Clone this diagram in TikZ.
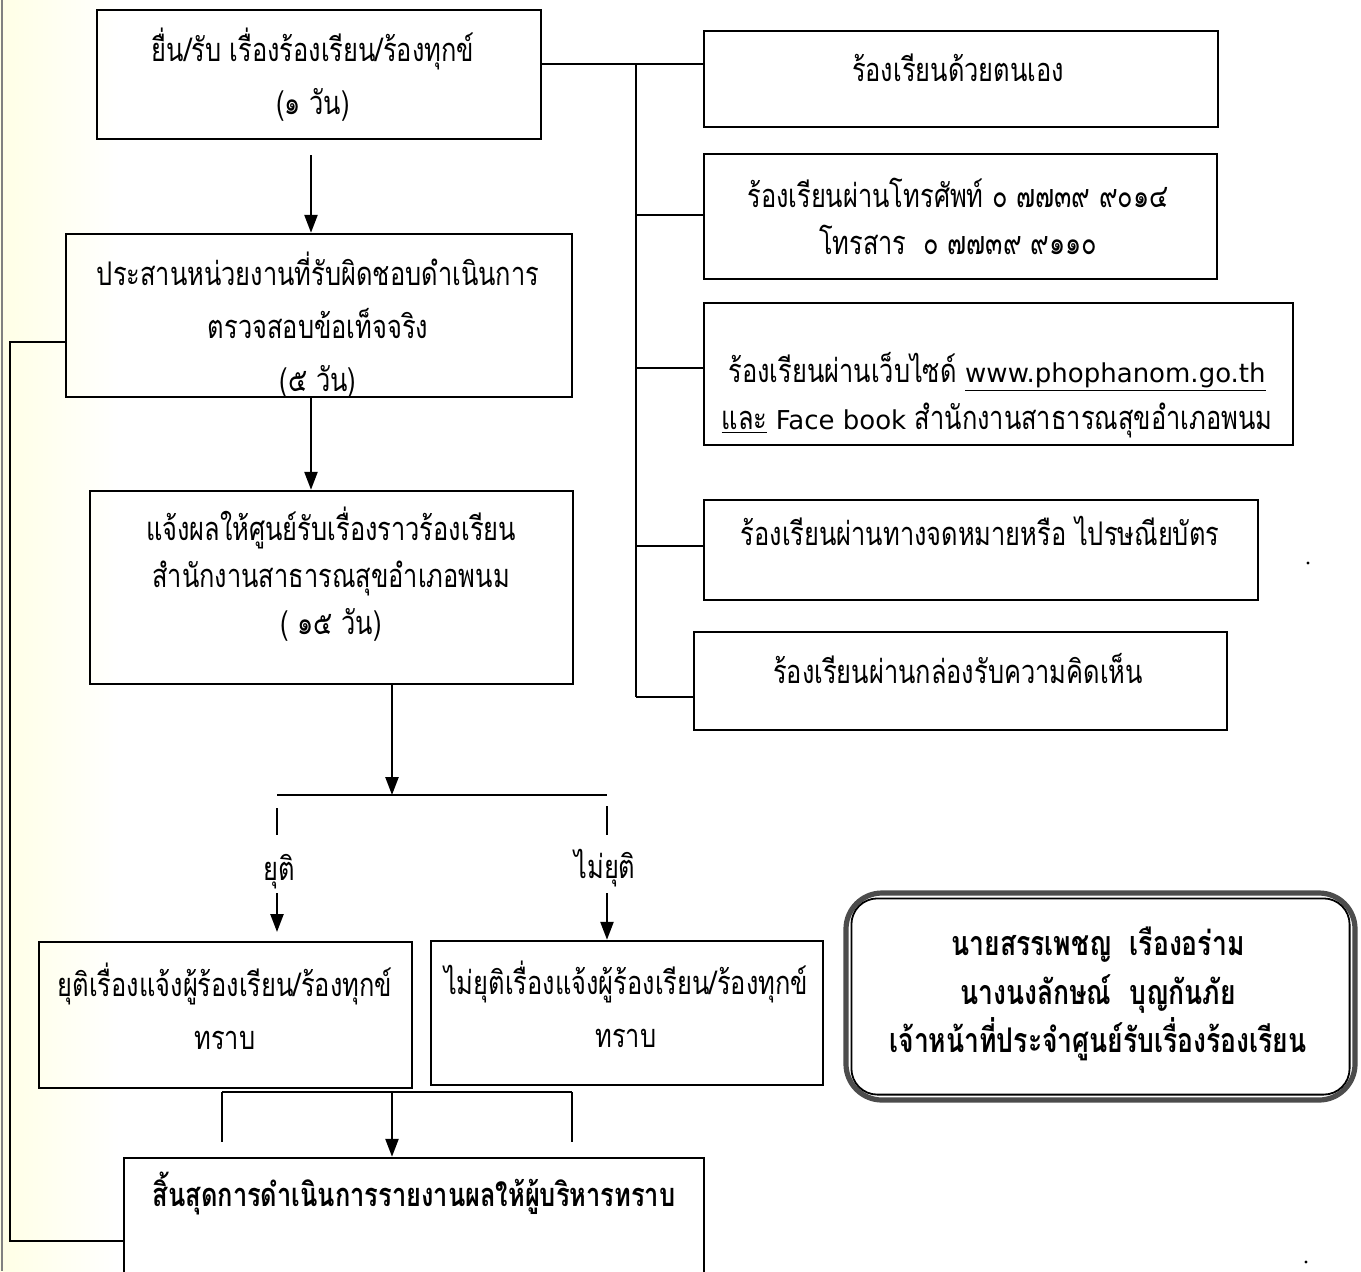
\documentclass[tikz,border=0pt]{standalone}
\usepackage{fontspec}
\setmainfont{Loma}[Script=Thai, FakeStretch=0.78]
\newfontfamily\latf{DejaVu Sans}
\usetikzlibrary{arrows.meta,calc}
\newcommand\pbox[6][]{\node[box,#1, minimum width={(#4-#2)*0.5pt}, minimum height={(#5-#3)*0.5pt}] (#6) at ({(#2+#4)/2},{(#3+#5)/2}) {};}
\begin{document}
\begin{tikzpicture}[x=0.5pt,y=-0.5pt,
  box/.style={draw, line width=1.2pt, rectangle, inner sep=0pt},
  txt/.style={align=center, inner sep=0pt, font=\fontsize{16.3}{26.5}\selectfont},
  txtb/.style={align=center, inner sep=0pt, font=\fontsize{16.3}{23.5}\selectfont},
  ln/.style={line width=1.2pt},
  arr/.style={line width=1.2pt, -{Triangle[length=9pt,width=6.5pt]}},
]
\useasboundingbox[fill=white] (0,0) rectangle (1361,1271);
\shade[left color=yellow!10!white, right color=white] (0,0) rectangle (120,1271);
\draw[gray, line width=0.8pt] (2,0) -- (2,1271);

% left column boxes
\pbox{97}{10}{541}{139}{b1}
\pbox{66}{234}{572}{397}{b2}
\pbox{90}{491}{573}{684}{b3}
\pbox{39}{942}{412}{1088}{b4}
\pbox{431}{941}{823}{1085}{b5}
\pbox{124}{1158}{704}{1300}{b6}
% right column boxes
\pbox{704}{31}{1218}{127}{r1}
\pbox{704}{154}{1217}{279}{r2}
\pbox{704}{303}{1293}{445}{r3}
\pbox{704}{500}{1258}{600}{r4}
\pbox{694}{632}{1227}{730}{r5}

% texts
\node[txt] (t1) at (313,75) {ยื่น/รับ เรื่องร้องเรียน/ร้องทุกข์\\(๑ วัน)};
\node[txt] (t2) at (318,325) {ประสานหน่วยงานที่รับผิดชอบดำเนินการ\\ตรวจสอบข้อเท็จจริง\\(๕ วัน)};
\node[txtb] (t3) at (331,574) {แจ้งผลให้ศูนย์รับเรื่องราวร้องเรียน\\สำนักงานสาธารณสุขอำเภอพนม\\( ๑๕ วัน)};
\node[txt] (tr1) at (958,68) {ร้องเรียนด้วยตนเอง};
\node[txtb] (tr2) at (958,216) {ร้องเรียนผ่านโทรศัพท์ ๐ ๗๗๓๙ ๙๐๑๔\\โทรสาร\ \ ๐ ๗๗๓๙ ๙๑๑๐};
\node[txtb] (tr3) at (997,395) {ร้องเรียนผ่านเว็บไซด์ \underline{\latf\fontsize{13}{15}\selectfont www.phophanom.go.th}\\\underline{และ} {\latf\fontsize{13}{15}\selectfont Face book} สำนักงานสาธารณสุขอำเภอพนม};
\node[txt] (tr4) at (980,531) {ร้องเรียนผ่านทางจดหมายหรือ ไปรษณียบัตร};
\node[txt] (tr5) at (958,668) {ร้องเรียนผ่านกล่องรับความคิดเห็น};
\node[txt] (ly) at (279,872) {ยุติ};
\node[txt] (lm) at (605,868) {ไม่ยุติ};
\node[txt] (t4) at (225,1006) {ยุติเรื่องแจ้งผู้ร้องเรียน/ร้องทุกข์\\ทราบ};
\node[txt] (t5) at (626,1004) {ไม่ยุติเรื่องแจ้งผู้ร้องเรียน/ร้องทุกข์\\ทราบ};
\node[txt, font=\fontsize{16.3}{26.5}\selectfont\bfseries] (t6) at (414,1193) {สิ้นสุดการดำเนินการรายงานผลให้ผู้บริหารทราบ};

% note box
\node[draw=gray!60!black, line width=2.6pt, rounded corners=18pt, minimum width={509*0.5pt}, minimum height={207*0.5pt}, inner sep=0pt] (note) at (1100.5,996.5) {};
\draw[line width=0.9pt, rounded corners=13pt] ([shift={(8,8)}]note.north west) rectangle ([shift={(-8,-8)}]note.south east);
\node[align=center, inner sep=0pt, font=\fontsize{17}{24.3}\selectfont\bfseries] (tn) at (1098,994) {นายสรรเพชญ\ \ เรืองอร่าม\\นางนงลักษณ์\ \ บุญกันภัย\\เจ้าหน้าที่ประจำศูนย์รับเรื่องร้องเรียน};

% coordinates
\coordinate (x311) at (311,0);
\coordinate (x392) at (392,0);
\coordinate (a1s) at (311,155);
\coordinate (barL) at (277,795);
\coordinate (barR) at (607,795);
\coordinate (sL1) at (277,808);
\coordinate (sL2) at (277,835);
\coordinate (sR1) at (607,806);
\coordinate (sR2) at (607,835);
\coordinate (aL1) at (277,893);
\coordinate (aL2) at (277,932);
\coordinate (aR1) at (607,893);
\coordinate (jL) at (222,1092);
\coordinate (jR) at (572,1092);
\coordinate (jL2) at (222,1142);
\coordinate (jR2) at (572,1142);
\coordinate (fb1) at (10,342);
\coordinate (fb2) at (10,1241);
\coordinate (vx) at (636,64);
\coordinate (vy) at (636,697);

% connectors
\draw[arr] (a1s) -- (a1s |- b2.north);
\draw[arr] (b2.south -| x311) -- (b3.north -| x311);
\draw[ln] (barL) -- (barR);
\draw[arr] (b3.south -| x392) -- (barL -| x392);
\draw[ln] (sL1) -- (sL2);
\draw[ln] (sR1) -- (sR2);
\draw[arr] (aL1) -- (aL2);
\draw[arr] (aR1) -- (aR1 |- b5.north);
\draw[ln] (jL) -- (jR);
\draw[ln] (jL) -- (jL2);
\draw[ln] (jR) -- (jR2);
\draw[arr] (jL -| x392) -- (b6.north -| x392);
\draw[ln] (b2.west |- fb1) -- (fb1) -- (fb2) -- (b6.west |- fb2);
\draw[ln] (b1.east |- vx) -- (r1.west |- vx);
\draw[ln] (vx) -- (vy);
\draw[ln] (vx |- 0,215) -- (r2.west |- 0,215);
\draw[ln] (vx |- 0,368) -- (r3.west |- 0,368);
\draw[ln] (vx |- 0,546) -- (r4.west |- 0,546);
\draw[ln] (vy) -- (r5.west |- vy);

\fill (1308,563) circle (1.6);
\fill (1306,1262) circle (1.6);
\end{tikzpicture}
\end{document}
